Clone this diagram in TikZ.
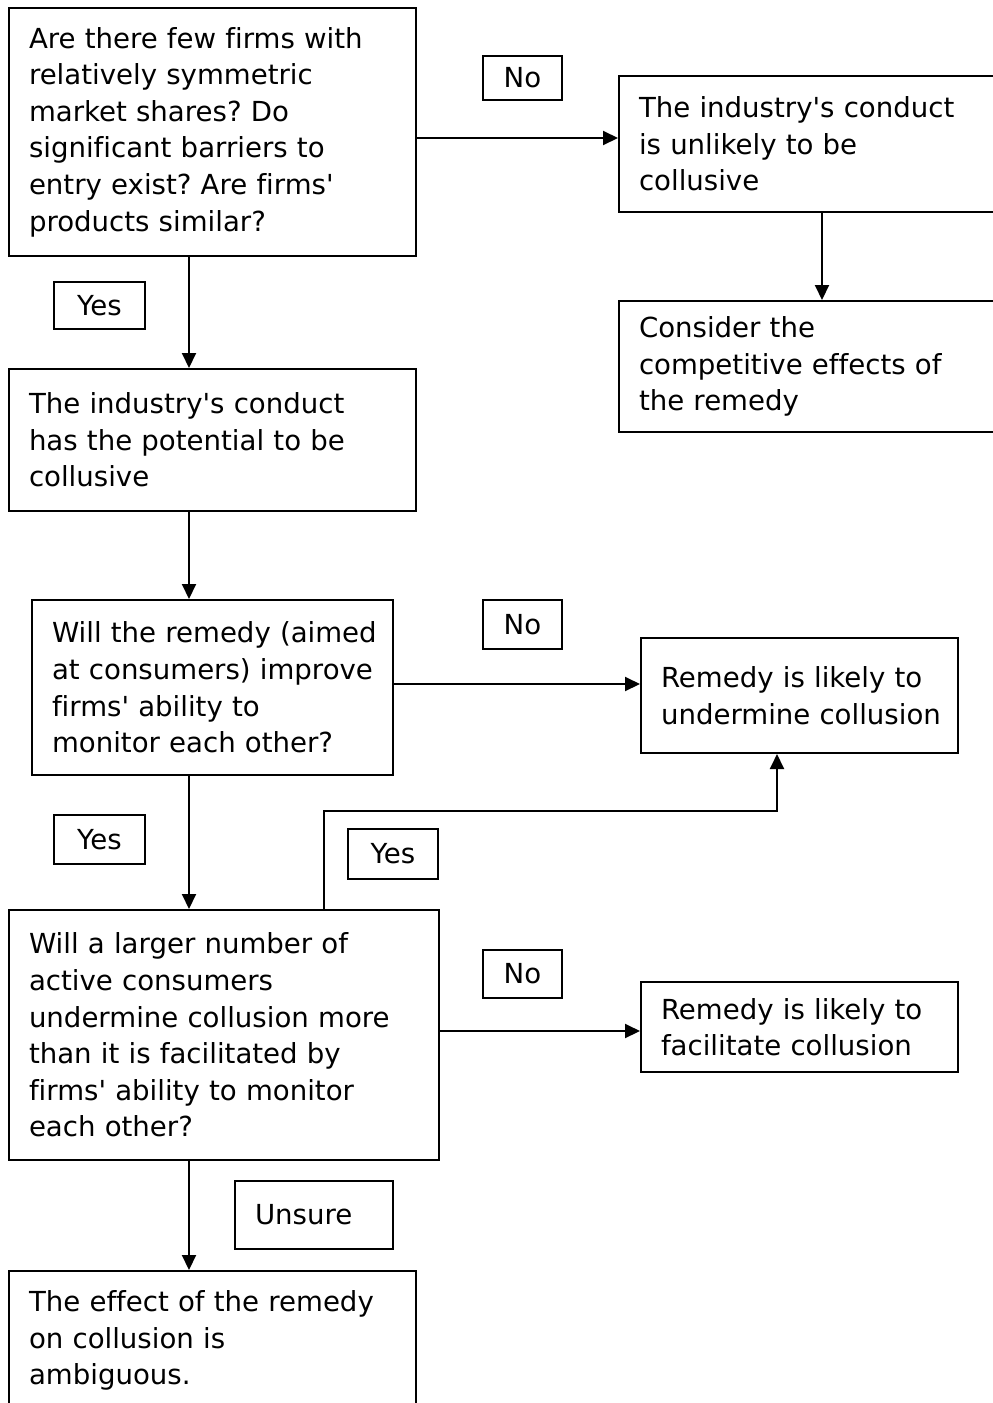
\documentclass[tikz,border=0pt]{standalone}
\usepackage{fontspec}
\setmainfont{DejaVu Sans}[Ligatures={NoCommon}]
\usetikzlibrary{arrows.meta}
\newcommand\ap{\textquotesingle}
\begin{document}
\frenchspacing
\begin{tikzpicture}[x=1pt,y=-1pt,
  box/.style={draw, line width=2pt, inner xsep=20pt, inner ysep=0pt, align=left, font=\fontsize{27.6}{36.6}\selectfont},
  lbl/.style={draw, line width=2pt, inner sep=0pt, font=\fontsize{27.6}{36.6}\selectfont},
  arr/.style={line width=2pt, -{Triangle[length=15pt,width=14pt]}}]
\useasboundingbox (0,0) rectangle (993,1403);
\clip (0,0) rectangle (993,1403);

\node[box, text width=367pt, minimum width=407pt, minimum height=248pt] (b1) at (212.5,132)
  {\mbox{Are there few firms with}\\\mbox{relatively symmetric}\\\mbox{market shares? Do}\\\mbox{significant barriers to}\\\mbox{entry exist? Are firms\ap}\\\mbox{products similar?}};
\node[box, text width=346pt, minimum width=386pt, minimum height=136pt] (b2) at (812,144)
  {\mbox{The industry\ap s conduct}\\\mbox{is unlikely to be}\\\mbox{collusive}};
\node[box, text width=346pt, minimum width=386pt, minimum height=131pt] (b3) at (812,366.5)
  {\mbox{Consider the}\\\mbox{competitive effects of}\\\mbox{the remedy}};
\node[box, text width=367pt, minimum width=407pt, minimum height=142pt] (b4) at (212.5,440)
  {\mbox{The industry\ap s conduct}\\\mbox{has the potential to be}\\\mbox{collusive}};
\node[box, text width=321pt, minimum width=361pt, minimum height=175pt] (b5) at (212.5,687.5)
  {\mbox{Will the remedy (aimed}\\\mbox{at consumers) improve}\\\mbox{firms\ap{} ability to}\\\mbox{monitor each other?}};
\node[box, text width=277pt, minimum width=317pt, minimum height=115pt] (b6) at (799.5,695.5)
  {\mbox{Remedy is likely to}\\\mbox{undermine collusion}};
\node[box, text width=390pt, minimum width=430pt, minimum height=250pt] (b7) at (224,1035)
  {\mbox{Will a larger number of}\\\mbox{active consumers}\\\mbox{undermine collusion more}\\\mbox{than it is facilitated by}\\\mbox{firms\ap{} ability to monitor}\\\mbox{each other?}};
\node[box, text width=277pt, minimum width=317pt, minimum height=90pt] (b8) at (799.5,1027)
  {\mbox{Remedy is likely to}\\\mbox{facilitate collusion}};
\node[box, text width=367pt, minimum width=407pt, minimum height=139pt] (b9) at (212.5,1340.5)
  {\mbox{The effect of the remedy}\\\mbox{on collusion is}\\\mbox{ambiguous.}};

\node[lbl, minimum width=79pt, minimum height=44pt] (no1) at (522.5,78) {No};
\node[lbl, minimum width=91pt, minimum height=47pt] (yes1) at (99.5,305.5) {Yes};
\node[lbl, minimum width=79pt, minimum height=49pt] (no2) at (522.5,624.5) {No};
\node[lbl, minimum width=91pt, minimum height=49pt] (yes2) at (99.5,839.5) {Yes};
\node[lbl, minimum width=90pt, minimum height=50pt] (yes3) at (393,854) {Yes};
\node[lbl, minimum width=79pt, minimum height=48pt] (no3) at (522.5,974) {No};
\node[lbl, inner xsep=20pt, text width=118pt, align=left, minimum width=158pt, minimum height=68pt] (uns) at (314,1215) {Unsure};

\coordinate (cx) at (189,0);
\coordinate (cr) at (822,0);
\coordinate (h1) at (0,138);
\coordinate (h2) at (0,684);
\coordinate (h3) at (0,1031);
\coordinate (k1) at (324,811);
\coordinate (k2) at (777,811);

\draw[arr] (b1.east |- h1) -- (b2.west |- h1);
\draw[arr] (b1.south -| cx) -- (b4.north -| cx);
\draw[arr] (b2.south -| cr) -- (b3.north -| cr);
\draw[arr] (b4.south -| cx) -- (b5.north -| cx);
\draw[arr] (b5.east |- h2) -- (b6.west |- h2);
\draw[arr] (b5.south -| cx) -- (b7.north -| cx);
\draw[arr] (k1 |- b7.north) -- (k1) -- (k2) -- (k2 |- b6.south);
\draw[arr] (b7.east |- h3) -- (b8.west |- h3);
\draw[arr] (b7.south -| cx) -- (b9.north -| cx);
\end{tikzpicture}
\end{document}
